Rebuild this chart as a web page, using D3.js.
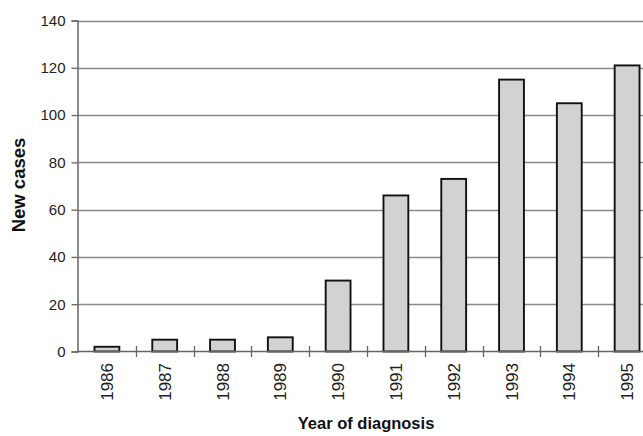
<!DOCTYPE html>
<html><head><meta charset="utf-8">
<script src="https://cdn.jsdelivr.net/npm/d3@7"></script>
<style>body{margin:0;background:#fff}svg{display:block}text{font-family:"Liberation Sans",Arial,sans-serif}</style>
</head><body><svg id="c" width="643" height="436"></svg>
<script>
const years = ["1986","1987","1988","1989","1990","1991","1992","1993","1994","1995"];
const newCases = [2,5,5,6,30,66,73,115,105,121];
const yTicks = [0,20,40,60,80,100,120,140];

const svg = d3.select("#c");
const x = d3.scaleBand().domain(years).range([78,656]).paddingInner(0.57).paddingOuter(0.285);
const xb = d3.scaleBand().domain(years).range([78,656]);
const y = d3.scaleLinear().domain([0,140]).range([351.5,20.5]);

// gridlines
svg.append("g").selectAll("line").data(yTicks.filter(d=>d>0)).join("line")
  .attr("x1",78).attr("x2",660).attr("y1",d=>Math.round(y(d))+0.5).attr("y2",d=>Math.round(y(d))+0.5)
  .attr("stroke","#8a8a8a").attr("stroke-width",1.3);

// bars
svg.append("g").selectAll("rect").data(years).join("rect")
  .attr("x",d=>x(d)).attr("width",x.bandwidth())
  .attr("y",(d,i)=>y(newCases[i])).attr("height",(d,i)=>y(0)-y(newCases[i]))
  .attr("fill","#d2d2d2").attr("stroke","#111").attr("stroke-width",1.9);

// y axis
const ya = d3.axisLeft(y).tickValues(yTicks).tickSize(6).tickPadding(6);
const gy = svg.append("g").attr("transform","translate(77.5,0)").call(ya);
gy.select(".domain").attr("stroke","#666").attr("stroke-width",1.5);
gy.selectAll(".tick line").attr("stroke","#666").attr("stroke-width",1.3);
gy.selectAll(".tick text").attr("font-size",15).attr("fill","#222").attr("font-family","Liberation Sans, Arial, sans-serif");

// x axis baseline
svg.append("line").attr("x1",77).attr("x2",660).attr("y1",351.5).attr("y2",351.5).attr("stroke","#666").attr("stroke-width",1.5);
// x ticks at band boundaries
svg.append("g").selectAll("line").data(years.slice(1)).join("line")
  .attr("x1",d=>Math.round(xb(d))+0.5).attr("x2",d=>Math.round(xb(d))+0.5).attr("y1",346).attr("y2",357)
  .attr("stroke","#666").attr("stroke-width",1.3);
// x labels
svg.append("g").selectAll("text").data(years).join("text")
  .attr("transform",d=>`translate(${xb(d)+xb.bandwidth()/2+6},363) rotate(-90)`)
  .attr("text-anchor","end").attr("font-size",17).attr("fill","#222").text(d=>d);

// titles
svg.append("text").attr("transform","translate(25,185) rotate(-90)").attr("text-anchor","middle")
  .attr("font-size",18.5).attr("font-weight","bold").attr("fill","#111").text("New cases");
svg.append("text").attr("x",366).attr("y",429).attr("text-anchor","middle")
  .attr("font-size",16.5).attr("font-weight","bold").attr("fill","#111").text("Year of diagnosis");
</script></body></html>
